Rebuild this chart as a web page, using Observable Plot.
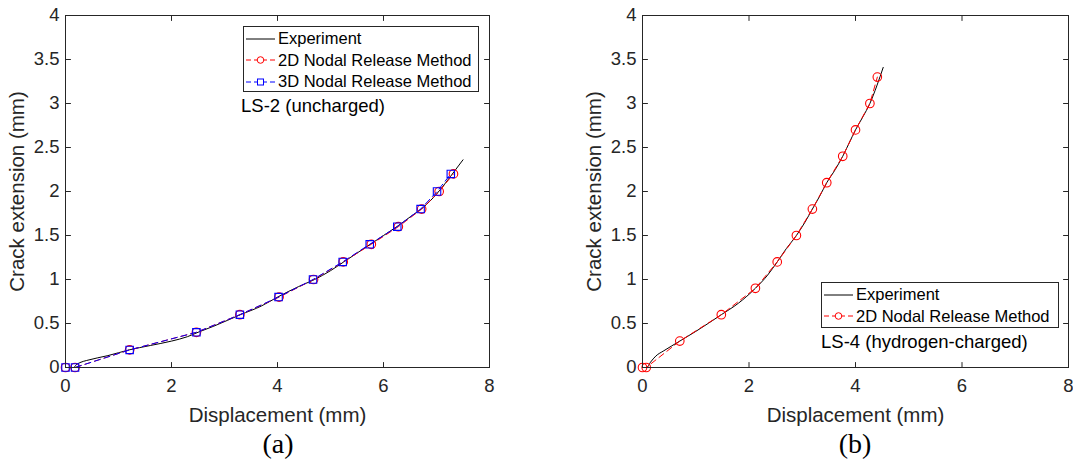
<!DOCTYPE html>
<html><head><meta charset="utf-8">
<script src="https://cdn.jsdelivr.net/npm/d3@7"></script>
<script src="https://cdn.jsdelivr.net/npm/@observablehq/plot@0.6"></script>
<style>
body{margin:0;background:#fff;width:1073px;height:460px;position:relative;overflow:hidden;font-family:"Liberation Sans",Arial,sans-serif;}
.panel{position:absolute;top:0}
.legend{position:absolute;border:1px solid #262626;background:#fff;font-size:16.5px;color:#000;box-sizing:border-box;padding-top:1px}
.row{display:flex;align-items:center;height:21.5px;white-space:nowrap}
.row svg{flex:none;margin-right:2px}
.note{position:absolute;font-size:18.5px;color:#000;white-space:nowrap;line-height:1}
.cap{position:absolute;font-family:"Liberation Serif","Times New Roman",serif;font-size:28px;color:#000;transform:translateX(-50%);line-height:1}
</style></head><body>
<div id="a" class="panel" style="left:0"></div>
<div id="b" class="panel" style="left:577px"></div>
<div id="legA" class="legend" style="left:243px;top:26px;width:236px;height:66px"></div>
<div id="legB" class="legend" style="left:821px;top:282px;width:238px;height:46px"></div>
<div class="note" style="left:241px;top:97px">LS-2 (uncharged)</div>
<div class="note" style="left:821px;top:333px">LS-4 (hydrogen-charged)</div>
<div class="cap" style="left:278px;top:430px">(a)</div>
<div class="cap" style="left:855px;top:430px">(b)</div>
<script>
// ---- tick values ----
const xTicks = [0, 2, 4, 6, 8];
const yTicks = [0, 0.5, 1, 1.5, 2, 2.5, 3, 3.5, 4];

// ---- Panel (a): LS-2 (uncharged) ----
const expAx = [0, 0.15, 0.2, 0.27, 0.4, 0.8, 1.2, 1.6, 2.0, 2.3, 2.5, 2.8, 3.3, 3.7, 4.0, 4.4, 4.7, 5.0, 5.25, 5.5, 5.75, 6.0, 6.25, 6.5, 6.75, 7.0, 7.2, 7.35, 7.5];
const expAy = [0, 0, 0.03, 0.055, 0.08, 0.135, 0.2, 0.25, 0.3, 0.35, 0.4, 0.47, 0.6, 0.7, 0.8, 0.92, 1.0, 1.1, 1.2, 1.3, 1.4, 1.5, 1.6, 1.71, 1.82, 1.97, 2.12, 2.24, 2.36];
const a2Dx = [0, 0.18, 1.21, 2.47, 3.29, 4.03, 4.68, 5.24, 5.77, 6.28, 6.72, 7.05, 7.32];
const a2Dy = [0, 0, 0.2, 0.4, 0.6, 0.8, 1.0, 1.2, 1.4, 1.6, 1.8, 2.0, 2.2];
const a3Dx = [0, 0.18, 1.21, 2.47, 3.29, 4.02, 4.67, 5.23, 5.74, 6.26, 6.70, 7.01, 7.27];
const a3Dy = [0, 0, 0.2, 0.4, 0.6, 0.8, 1.0, 1.2, 1.4, 1.6, 1.8, 2.0, 2.2];

// ---- Panel (b): LS-4 (hydrogen-charged) ----
const expBx = [0, 0.08, 0.15, 0.25, 0.4, 0.7, 1.0, 1.48, 1.8, 2.12, 2.35, 2.53, 2.7, 2.89, 3.05, 3.19, 3.33, 3.46, 3.62, 3.76, 3.88, 4.0, 4.14, 4.27, 4.4, 4.52];
const expBy = [0, 0, 0.06, 0.13, 0.19, 0.3, 0.41, 0.6, 0.73, 0.9, 1.05, 1.2, 1.35, 1.5, 1.65, 1.8, 1.95, 2.1, 2.25, 2.4, 2.55, 2.7, 2.85, 3.0, 3.2, 3.41];
const b2Dx = [0, 0.07, 0.70, 1.48, 2.12, 2.53, 2.89, 3.19, 3.46, 3.76, 4.00, 4.27, 4.41];
const b2Dy = [0, 0, 0.3, 0.6, 0.9, 1.2, 1.5, 1.8, 2.1, 2.4, 2.7, 3.0, 3.3];

const zip = (xs, ys) => xs.map((x, i) => ({x, y: ys[i]}));
const AX = "#262626";
const tickShape = {draw(ctx, l) { ctx.moveTo(0, 0); ctx.lineTo(0, -l); }};

function inwardTicks() {
  const o = {length: 5, anchor: "start", shape: tickShape, stroke: AX, strokeWidth: 1};
  return [
    Plot.vector(xTicks, {...o, x: d => d, y: () => 0, rotate: 0}),
    Plot.vector(xTicks, {...o, x: d => d, y: () => 4, rotate: 180}),
    Plot.vector(yTicks, {...o, y: d => d, x: () => 0, rotate: 90}),
    Plot.vector(yTicks, {...o, y: d => d, x: () => 8, rotate: 270})
  ];
}

function panel(width, marginRight, series) {
  return Plot.plot({
    width, height: 425,
    marginLeft: 65, marginRight, marginTop: 15, marginBottom: 58,
    x: {domain: [0, 8]},
    y: {domain: [0, 4]},
    style: {fontFamily: "'Liberation Sans', Arial, sans-serif", color: AX, background: "transparent", overflow: "visible"},
    marks: [
      Plot.axisX(xTicks, {tickSize: 0, tickPadding: 11, tickFormat: String, fontSize: 18.5, fill: AX, label: null}),
      Plot.axisX([], {tickSize: 0, fontSize: 20.5, fill: AX,
        label: "Displacement (mm)", labelAnchor: "center", labelArrow: "none", labelOffset: 54}),
      Plot.axisY(yTicks, {tickSize: 0, tickPadding: 6, tickFormat: String, fontSize: 18.5, fill: AX, label: null}),
      Plot.axisY([], {tickSize: 0, fontSize: 20.5, fill: AX,
        label: "Crack extension (mm)", labelAnchor: "center", labelArrow: "none", labelOffset: 56}),
      ...series,
      Plot.frame({stroke: AX, strokeWidth: 1}),
      ...inwardTicks()
    ]
  });
}

const expMark = (d) => Plot.line(d, {x: "x", y: "y", stroke: "#000", strokeWidth: 1, curve: "monotone-x"});
const dashLine = (d, c) => Plot.line(d, {x: "x", y: "y", stroke: c, strokeWidth: 1, strokeDasharray: "6,4"});

const plotA = panel(536, 47, [
  expMark(zip(expAx, expAy)),
  dashLine(zip(a2Dx, a2Dy), "#ff0000"),
  Plot.dot(zip(a2Dx, a2Dy), {x: "x", y: "y", r: 4.3, stroke: "#ff0000", strokeWidth: 1.1, fill: "none"}),
  dashLine(zip(a3Dx, a3Dy), "#0000ff"),
  Plot.dot(zip(a3Dx, a3Dy), {x: "x", y: "y", r: 4.2, symbol: "square", stroke: "#0000ff", strokeWidth: 1.1, fill: "none"})
]);
const plotB = panel(496, 5, [
  expMark(zip(expBx, expBy)),
  dashLine(zip(b2Dx, b2Dy), "#ff0000"),
  Plot.dot(zip(b2Dx, b2Dy), {x: "x", y: "y", r: 4.3, stroke: "#ff0000", strokeWidth: 1.1, fill: "none"})
]);
document.getElementById("a").append(plotA);
document.getElementById("b").append(plotB);

// ---- legends ----
const legendItems = [
  {label: "Experiment", color: "#000", dash: null, marker: null},
  {label: "2D Nodal Release Method", color: "#ff0000", dash: "5,3", marker: "circle"},
  {label: "3D Nodal Release Method", color: "#0000ff", dash: "5,3", marker: "square"}
];
function swatch(it) {
  const w = 32, h = 12;
  let s = `<svg width="${w}" height="${h}"><line x1="2" x2="${w - 1}" y1="6" y2="6" stroke="${it.color}" stroke-width="1" ${it.dash ? `stroke-dasharray="${it.dash}"` : ""}/>`;
  if (it.marker === "circle") s += `<circle cx="16.5" cy="6" r="3.3" fill="#fff" stroke="${it.color}"/>`;
  if (it.marker === "square") s += `<rect x="13.5" y="3" width="6" height="6" fill="#fff" stroke="${it.color}"/>`;
  return s + "</svg>";
}
function legend(id, items) {
  const el = document.getElementById(id);
  el.innerHTML = items.map(it => `<div class="row">${swatch(it)}<span>${it.label}</span></div>`).join("");
}
legend("legA", legendItems);
legend("legB", legendItems.slice(0, 2));
</script>
</body></html>
